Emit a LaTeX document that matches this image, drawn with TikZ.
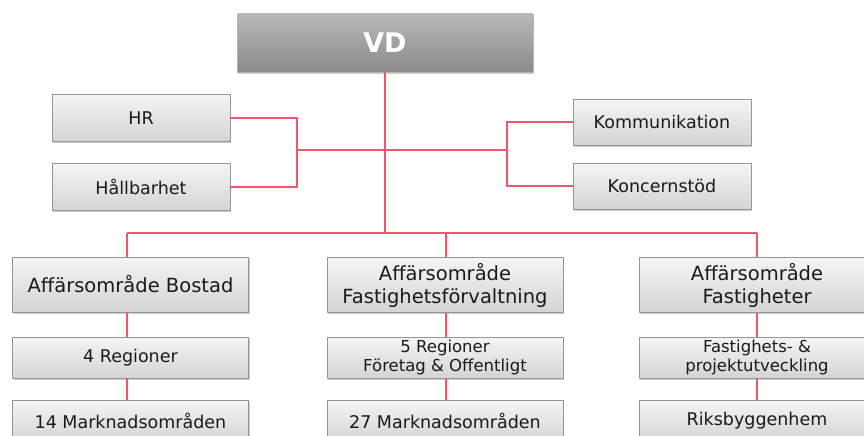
\documentclass[tikz,border=0pt]{standalone}
\usepackage{fontspec}
\setmainfont{DejaVu Sans}
\usetikzlibrary{shadows}
\definecolor{linered}{RGB}{240,88,104}
\definecolor{boxborder}{RGB}{150,150,150}
\definecolor{boxtop}{RGB}{245,245,245}
\definecolor{boxbot}{RGB}{212,212,212}
\definecolor{txt}{RGB}{26,26,26}
\definecolor{vdtop}{RGB}{184,184,184}
\definecolor{vdbot}{RGB}{138,138,138}
\begin{document}
\begin{tikzpicture}[x=1pt,y=-1pt,
  orgbox/.style={draw=boxborder, line width=0.8pt, top color=boxtop, bottom color=boxbot,
    text=txt, align=center, inner sep=0pt,
    drop shadow={shadow xshift=1.2pt, shadow yshift=-1.8pt, opacity=0.4}},
  staffbox/.style={orgbox, minimum width=178pt, minimum height=47pt,
    font=\fontsize{17.5}{20}\selectfont},
  areabox/.style={orgbox, minimum width=236pt, minimum height=55pt,
    font=\fontsize{19.5}{23}\selectfont},
  subbox/.style={orgbox, minimum width=236pt, minimum height=41pt,
    font=\fontsize{17.5}{20}\selectfont},
  subboxtwo/.style={orgbox, minimum width=236pt, minimum height=41pt,
    font=\fontsize{16.5}{18.5}\selectfont},
  vdbox/.style={draw=boxborder!70, line width=0.8pt, top color=vdtop, bottom color=vdbot,
    text=white, inner sep=0pt, minimum width=296pt, minimum height=58pt,
    font=\fontsize{27}{30}\selectfont\bfseries,
    drop shadow={shadow xshift=1.2pt, shadow yshift=-1.8pt, opacity=0.4}},
  link/.style={draw=linered, line width=1.5pt}
]
\useasboundingbox (0,0) rectangle (864,436);
\clip (0,0) rectangle (864,436);

% junction points
\coordinate (busL) at (127,233);
\coordinate (busM) at (446,233);
\coordinate (busR) at (757,233);
\coordinate (busC) at (385,233);
\coordinate (staffL) at (297,150);
\coordinate (staffR) at (507,150);

% boxes
\node[vdbox] (vd) at (385,43) {VD};
\node[staffbox] (hr) at (141,118) {HR};
\node[staffbox] (hall) at (141,187) {Hållbarhet};
\node[staffbox, minimum height=46pt] (komm) at (662,122) {Kommunikation};
\node[staffbox, minimum height=46pt] (konc) at (662,186) {Koncernstöd};

\node[areabox] (bostad) at (130.5,284.5) {Affärsområde Bostad};
\node[areabox] (forv) at (445,285) {Affärsområde\\Fastighetsförvaltning};
\node[areabox] (fast) at (757,285) {Affärsområde\\Fastigheter};

\node[subbox] (reg4) at (130.5,357.5) {4 Regioner};
\node[subboxtwo] (reg5) at (445,357.5) {5 Regioner\\Företag \& Offentligt};
\node[subboxtwo] (proj) at (757,357.5) {Fastighets- \&\\projektutveckling};

\node[subbox] (mark14) at (130.5,420.5) {14 Marknadsområden};
\node[subbox] (mark27) at (445,420.5) {27 Marknadsområden};
\node[subbox] (riks) at (757,420.5) {Riksbyggenhem};

% connectors
\draw[link] (vd.south -| busC) -- (busC);
\draw[link] (busL) -- (busR);
\draw[link] (busL) -- (busL |- bostad.north);
\draw[link] (busM) -- (busM |- forv.north);
\draw[link] (busR) -- (busR |- fast.north);
\draw[link] (staffL) -- (staffR);
\draw[link] (hr.east) -| (staffL) |- (hall.east);
\draw[link] (komm.west) -| (staffR) |- (konc.west);
\draw[link] (busL |- bostad.south) -- (busL |- reg4.north);
\draw[link] (busL |- reg4.south) -- (busL |- mark14.north);
\draw[link] (busM |- forv.south) -- (busM |- reg5.north);
\draw[link] (busM |- reg5.south) -- (busM |- mark27.north);
\draw[link] (busR |- fast.south) -- (busR |- proj.north);
\draw[link] (busR |- proj.south) -- (busR |- riks.north);
\end{tikzpicture}
\end{document}
